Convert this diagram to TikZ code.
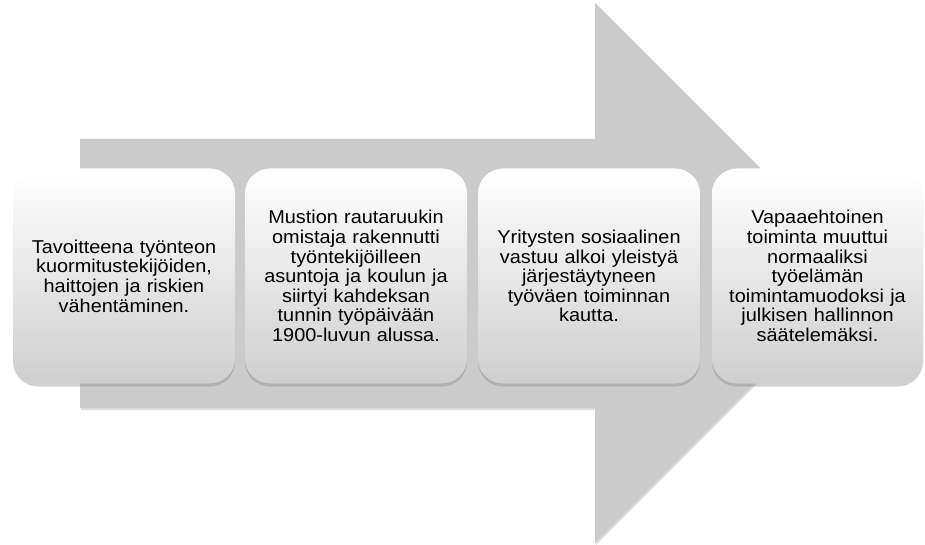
\documentclass[tikz,border=0pt]{standalone}
\usepackage{fontspec}
\setmainfont{Liberation Sans}[FakeStretch=1.07]
\usetikzlibrary{shadows}
\definecolor{arrowgray}{HTML}{CBCBCB}
\tikzset{
  stepbox/.style={rounded corners=25pt, minimum height=215pt, text width=205pt,
    align=center, inner sep=0pt, top color=white, bottom color=black!19,
    drop shadow={opacity=0.35, shadow xshift=0pt, shadow yshift=-3pt},
    font=\fontsize{18.6}{19.6}\selectfont},
  bigarrow/.style={fill=arrowgray, draw=none,
    drop shadow={opacity=0.25, shadow xshift=1pt, shadow yshift=-2pt}}
}
\begin{document}
\begin{tikzpicture}[x=1pt,y=-1pt]
\useasboundingbox (0,0) rectangle (925,545);
\fill[white] (0,0) rectangle (925,545);
\path[bigarrow] (80,139) -- (595,139) -- (595,3) -- (865,273) -- (595,543) -- (595,408) -- (80,408) -- cycle;
\node[stepbox, minimum width=222pt] (b1) at (124,276) {Tavoitteena työnteon\\kuormitustekijöiden,\\haittojen ja riskien\\vähentäminen.};
\node[stepbox, minimum width=222pt] (b2) at (356,276) {Mustion rautaruukin\\omistaja rakennutti\\työntekijöilleen\\asuntoja ja koulun ja\\siirtyi kahdeksan\\tunnin työpäivään\\1900-luvun alussa.};
\node[stepbox, minimum width=222pt] (b3) at (589,276) {Yritysten sosiaalinen\\vastuu alkoi yleistyä\\järjestäytyneen\\työväen toiminnan\\kautta.};
\node[stepbox, minimum width=211pt, text width=200pt] (b4) at (817.5,276) {Vapaaehtoinen\\toiminta muuttui\\normaaliksi\\työelämän\\toimintamuodoksi ja\\julkisen hallinnon\\säätelemäksi.};
\end{tikzpicture}
\end{document}
